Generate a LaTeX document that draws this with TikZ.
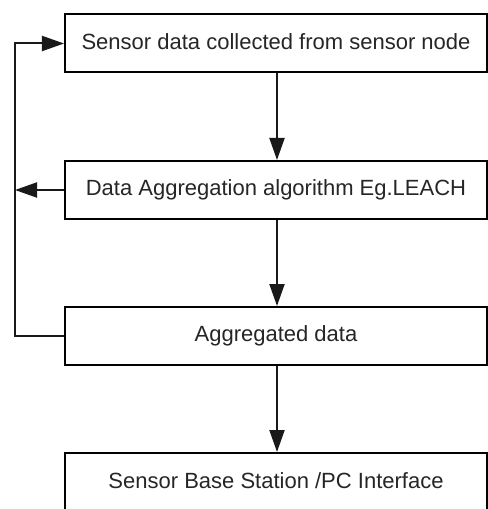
\documentclass[tikz,border=0pt]{standalone}
\usepackage{fontspec}
\setmainfont{Liberation Sans}
\usetikzlibrary{arrows.meta}
\begin{document}
\begin{tikzpicture}[x=1bp,y=-1bp,
  box/.style={draw=black,line width=2bp,fill=white,minimum width=422bp,minimum height=58bp,
    inner sep=0pt,font=\fontsize{22bp}{26bp}\selectfont,text=black!85},
  conn/.style={line width=2bp,draw=black!90},
  arr/.style={conn,-{Triangle[length=22bp,width=15bp]}}]
\useasboundingbox (0,0) rectangle (488,509);
\node[box] (b1) at (276,43.5) {\raisebox{3bp}{Sensor data collected from sensor node}};
\node[box] (b2) at (276,190) {\raisebox{3bp}{Data Aggregation algorithm Eg.LEACH}};
\node[box] (b3) at (276,336) {\raisebox{3bp}{Aggregated data}};
\node[box] (b4) at (276,482) {\raisebox{3bp}{Sensor Base Station /PC Interface}};
\coordinate (lt) at (15,43.5);
\coordinate (lb) at (15,336);
\coordinate (lm) at (15,190);
\draw[arr] (b1.south -| 277,0) -- (b2.north -| 277,0);
\draw[arr] (b2.south -| 277,0) -- (b3.north -| 277,0);
\draw[arr] (b3.south -| 277,0) -- (b4.north -| 277,0);
\draw[arr] (b3.west) -- (lb) -- (lt) -- (b1.west);
\draw[arr] (b2.west) -- (lm);
\end{tikzpicture}
\end{document}
